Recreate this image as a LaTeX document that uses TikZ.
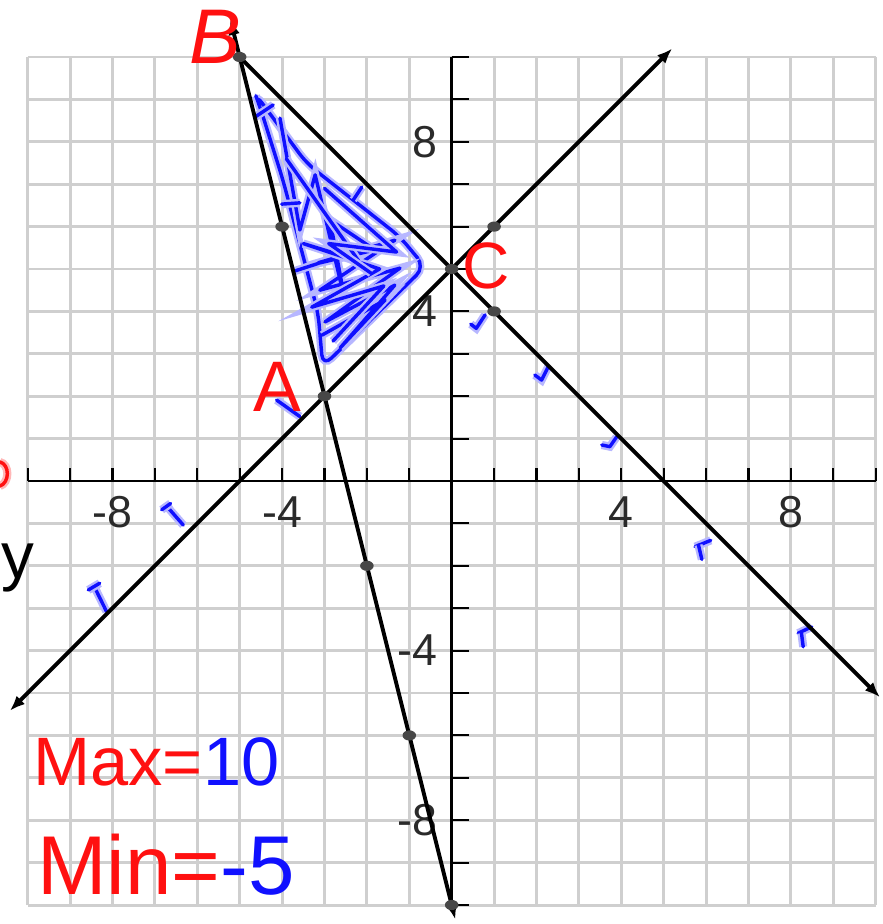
\documentclass[tikz,border=0pt]{standalone}
\usepackage{fontspec}
\setmainfont{Liberation Sans}
\usetikzlibrary{arrows.meta}
\definecolor{GridGray}{HTML}{CFCFCF}
\definecolor{InkRed}{HTML}{FF1010}
\definecolor{InkBlue}{HTML}{1010FF}
\definecolor{AxisText}{HTML}{2A2A2A}

\begin{document}
\begin{tikzpicture}[
    x=1cm,y=1cm,
    gridline/.style={draw=GridGray,line width=2pt},
    axis/.style={draw=black,line width=1.8pt},
    axtick/.style={draw=black,line width=1.4pt},
    numlabel/.style={font=\fontsize{30}{30}\selectfont,text=AxisText,inner sep=0pt},
    graphline/.style={draw=black,line width=2.6pt},
    tip/.style={arrows={#1}},
    ptdot/.style={fill=black!72},
    blueink/.style={draw=InkBlue,line width=2.3pt,line cap=round,line join=round,
      preaction={draw=InkBlue!30,line width=5.5pt}},
    redink/.style={draw=InkRed,line width=2.3pt,line cap=round,
      preaction={draw=InkRed!30,line width=5.5pt}},
    handred/.style={text=InkRed,inner sep=0pt}
  ]
    \useasboundingbox (-10.653,-10.448) rectangle (10.149,11.344);

    \draw[gridline] (-10,-10) grid (10,10);
    \draw[axis] (-10,0) -- (10,0);
    \draw[axis] (0,-10) -- (0,10);
    \foreach \i in {-10,...,10} {
      \draw[axtick] (\i,0) -- (\i,0.3);
      \draw[axtick] (0,\i) -- (0.4,\i);
    }
    \foreach \v/\n in {-8/a,-4/b,4/c,8/d} {
      \node[numlabel] (xlab\n) at (\v,-0.73) {\v};
      \node[numlabel,anchor=east] (ylab\n) at (-0.33,\v) {\v};
    }

    \coordinate (A) at (-3,2);
    \coordinate (B) at (-5,10);
    \coordinate (C) at (0,5);
    \coordinate (P1) at (-4,6);
    \coordinate (P2) at (1,6);
    \coordinate (P3) at (1,4);
    \coordinate (P4) at (-2,-2);
    \coordinate (P5) at (-1,-6);
    \coordinate (P6) at (0,-10);
    \coordinate (L1s) at (-10.42,-5.42);
    \coordinate (L1e) at (5.2,10.2);
    \coordinate (L2e) at (10.1,-5.1);
    \coordinate (L3s) at (-5.22,10.88);
    \coordinate (L3e) at (0.085,-10.34);

    \draw[blueink,rounded corners=8pt] (-4.64,9.14) -- (-3.42,7.49) -- (-1.22,5.76)
      -- (-0.63,5.05) -- (-3.04,2.70) -- (-3.15,3.96) -- (-3.98,7.10) -- (-4.52,8.82) -- cycle;
    \draw[blueink] (-4.05,8.56) -- (-3.58,5.92) -- (-3.22,7.22) -- (-2.52,4.27) -- (-2.87,6.16)
      -- (-1.81,5.45) -- (-3.34,5.09) -- (-1.34,5.68) -- (-3.11,4.50) -- (-1.22,5.02)
      -- (-2.99,3.75) -- (-1.34,4.62) -- (-2.63,3.14) -- (-1.57,4.27) -- (-3.06,3.44);
    \draw[blueink] (-3.9,7.6) -- (-2.2,5.2) -- (-3.5,5.6) -- (-1.7,5.0) -- (-3.3,4.1)
      -- (-1.6,4.6) -- (-2.8,3.3);
    \draw[blueink] (-3.0,6.9) -- (-1.3,5.4) -- (-2.9,5.6) -- (-1.9,4.9);
    \draw[blueink] (-4.63,8.59) -- (-4.21,8.87);
    \draw[blueink] (-4.01,6.53) -- (-3.58,6.56);
    \draw[blueink] (-3.74,4.94) -- (-3.15,5.13);
    \draw[blueink] (-2.32,6.63) -- (-2.12,6.93);

    \draw[blueink] (-8.14,-3.08) -- (-8.41,-2.53);
    \draw[blueink] (-8.57,-2.57) -- (-8.30,-2.41);
    \draw[blueink] (-6.33,-1.04) -- (-6.68,-0.64);
    \draw[blueink] (-6.84,-0.68) -- (-6.63,-0.53);
    \draw[blueink] (-4.13,1.91) -- (-3.58,1.52);
    \draw[blueink] (0.79,3.92) -- (0.58,3.60) -- (0.45,3.70);
    \draw[blueink] (2.28,2.70) -- (2.12,2.38) -- (1.96,2.50);
    \draw[blueink] (3.89,1.04) -- (3.73,0.81) -- (3.54,0.85);
    \draw[blueink] (5.74,-1.55) -- (6.11,-1.40);
    \draw[blueink] (5.82,-1.51) -- (5.90,-1.85);
    \draw[blueink] (8.17,-3.59) -- (8.49,-3.44);
    \draw[blueink] (8.25,-3.59) -- (8.29,-3.91);

    \draw[graphline,tip={Latex[length=3.6mm,width=2.8mm]-Latex[length=3.6mm,width=2.8mm]}] (L1s) -- (L1e);
    \draw[graphline,tip={-Latex[length=3.6mm,width=2.8mm]}] (B) -- (L2e);
    \draw[graphline,tip={Latex[length=3.6mm,width=2.8mm]-Latex[length=3.6mm,width=2.8mm]}] (L3s) -- (L3e);

    \foreach \p in {A,B,C,P1,P2,P3,P4,P5,P6}
      \fill[ptdot] (\p) ellipse (0.16 and 0.12);

    \node[handred,font=\fontsize{52}{52}\selectfont\itshape] (labB) at (-5.58,10.47) {B};
    \node[handred,font=\fontsize{44}{44}\selectfont] (labC) at (0.81,5.07) {C};
    \node[handred,font=\fontsize{48}{48}\selectfont] (labA) at (-4.12,2.22) {A};
    \node[anchor=base west,inner sep=0pt,font=\fontsize{46}{46}\selectfont] (maxlab) at (-9.87,-7.17)
      {\textcolor{InkRed}{Max=}\textcolor{InkBlue}{10}};
    \node[anchor=base west,inner sep=0pt,font=\fontsize{56}{56}\selectfont] (minlab) at (-9.78,-9.76)
      {\textcolor{InkRed}{Min=}\textcolor{InkBlue}{-5}};
    \node[anchor=base,inner sep=0pt,font=\fontsize{44}{44}\selectfont] (ylab) at (-10.24,-2.3) {y};
    \draw[redink] (-10.66,0.45) .. controls (-10.42,0.4) and (-10.42,-0.05) .. (-10.66,-0.12);
  \end{tikzpicture}
\end{document}
